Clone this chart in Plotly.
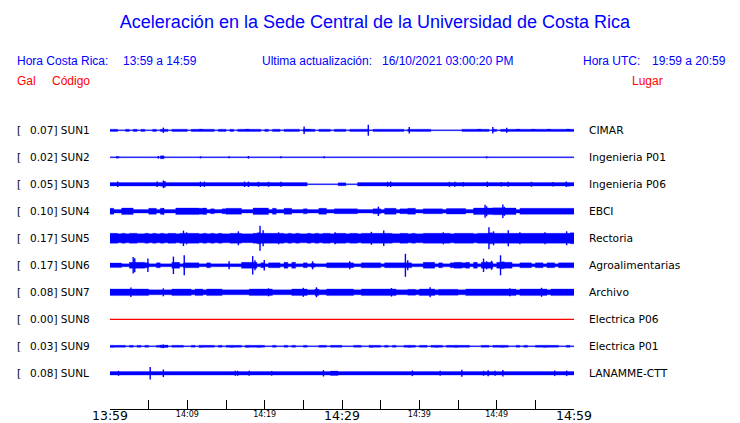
import plotly.graph_objects as go

# ---------------- data ----------------
codes = ["SUN1", "SUN2", "SUN3", "SUN4", "SUN5", "SUN6", "SUN7", "SUN8", "SUN9", "SUNL"]
gal = ["0.07", "0.02", "0.05", "0.10", "0.17", "0.17", "0.08", "0.00", "0.03", "0.08"]
places = ["CIMAR", "Ingenieria P01", "Ingenieria P06", "EBCI", "Rectoria", "Agroalimentarias",
          "Archivo", "Electrica P06", "Electrica P01", "LANAMME-CTT"]
trace_colors = ["#0000ff", "#0000ff", "#0000ff", "#0000ff", "#0000ff", "#0000ff",
                "#0000ff", "#ff0000", "#0000ff", "#0000ff"]

# time axis: minutes after 13:59, envelope sampled every 30 s (120 samples)
sample_minutes = [k * 0.5 for k in range(120)]
tick_minutes = [0, 5, 10, 15, 20, 25, 30, 35, 40, 45, 50, 55, 60]
small_tick_text = ["", "", "14:09", "", "14:19", "", "", "", "14:39", "", "14:49", "", ""]
large_tick_text = ["13:59", "", "", "", "", "", "14:29", "", "", "", "", "", "14:59"]

# half-height of the dense part of each trace (display units)
sun1 = [1.1, 1.1, 0.45, 0.45, 1.1, 0.45, 1.1, 0.45, 1.1, 0.45, 0.45, 1.1, 0.45, 1.1, 1.1, 0.45, 1.1, 1.1, 1.1, 1.1,
        0.45, 1.1, 1.1, 1.2, 1.1, 1.1, 1.1, 0.45, 1.1, 1.1, 0.45, 1.1, 0.45, 1.1, 1.1, 1.2, 1.1, 1.1, 1.1, 0.45,
        1.1, 0.45, 1.1, 1.1, 0.45, 1.1, 1.1, 1.1, 1.1, 0.45, 1.2, 1.2, 1.1, 0.45, 1.1, 1.1, 1.1, 0.45, 1.1, 1.1,
        1.1, 0.45, 1.1, 1.1, 1.1, 1.1, 1.1, 0.45, 1.1, 1.1, 1.1, 1.1, 1.1, 1.1, 1.1, 1.1, 0.45, 1.1, 1.1, 1.1,
        1.1, 1.1, 1.1, 0.45, 0.45, 0.45, 0.45, 0.45, 0.45, 0.45, 0.45, 1.1, 1.1, 1.1, 1.1, 1.2, 1.1, 1.1, 0.45, 1.1,
        0.45, 1.1, 1.1, 1.1, 1.1, 1.2, 1.1, 1.1, 1.1, 1.2, 1.1, 1.1, 1.1, 1.2, 1.1, 1.1, 1.1, 1.1, 1.2, 1.1]
sun2 = [0.45, 0.45, 0.45, 0.45, 0.45, 0.45, 0.45, 0.45, 0.45, 0.45, 0.45, 0.45, 0.45, 1.5, 0.45, 0.45, 0.45, 0.45, 0.45, 0.45,
        0.45, 0.45, 0.45, 0.45, 0.45, 0.45, 0.45, 0.45, 0.45, 0.45, 0.45, 0.45, 0.45, 0.45, 0.45, 0.45, 0.45, 0.45, 0.45, 0.45,
        0.45, 0.45, 0.45, 0.45, 0.45, 0.45, 0.45, 0.45, 0.45, 0.45, 0.45, 0.45, 0.45, 0.45, 0.45, 0.45, 0.45, 0.45, 0.45, 0.45,
        0.45, 0.45, 0.45, 0.45, 0.45, 0.45, 0.45, 0.45, 0.45, 0.45, 0.45, 0.45, 0.45, 0.45, 0.45, 0.45, 0.45, 0.45, 0.45, 0.45,
        0.45, 0.45, 0.45, 0.45, 0.45, 0.45, 0.45, 0.45, 0.45, 0.45, 0.45, 0.45, 0.45, 0.45, 0.45, 0.45, 0.45, 0.45, 0.45, 0.45,
        0.45, 0.45, 0.45, 0.45, 0.45, 0.45, 0.45, 0.45, 0.45, 0.45, 0.45, 0.45, 0.45, 0.45, 0.45, 0.45, 0.45, 0.45, 0.45, 0.45]
sun3 = [1.7, 1.7, 1.7, 1.7, 1.7, 1.7, 1.7, 1.7, 1.7, 1.7, 1.7, 1.7, 1.7, 1.9, 1.7, 1.7, 1.7, 1.7, 1.7, 1.7,
        1.7, 1.7, 1.7, 1.7, 1.7, 1.7, 1.7, 1.7, 1.7, 1.7, 1.7, 1.7, 1.7, 1.7, 1.7, 1.7, 1.7, 1.7, 1.7, 1.7,
        1.7, 1.7, 1.7, 1.7, 1.7, 1.7, 1.7, 1.7, 1.7, 1.7, 1.7, 0.45, 0.45, 0.45, 0.45, 0.45, 0.45, 0.45, 0.45, 1.5,
        1.5, 0.45, 0.45, 0.45, 1.7, 1.7, 1.7, 1.7, 1.7, 1.7, 1.7, 1.7, 1.7, 1.7, 1.7, 1.7, 1.7, 1.7, 1.7, 1.7,
        1.7, 1.7, 1.7, 1.7, 1.7, 1.7, 1.7, 1.7, 1.7, 1.7, 1.7, 1.7, 1.7, 1.7, 1.7, 1.7, 1.7, 1.7, 1.7, 1.7,
        1.7, 1.7, 1.7, 1.7, 1.7, 1.7, 1.7, 1.7, 1.7, 1.7, 1.7, 1.7, 1.7, 1.7, 1.7, 1.7, 1.7, 1.7, 1.9, 1.8]
sun4 = [3.0, 1.8, 1.8, 3.3, 3.3, 3.3, 1.8, 1.8, 1.8, 1.8, 3.0, 3.0, 1.8, 3.0, 1.8, 1.8, 1.8, 3.3, 3.3, 3.3,
        3.3, 3.3, 3.3, 3.0, 3.3, 1.8, 2.5, 1.8, 1.8, 2.5, 3.0, 3.0, 3.0, 3.0, 1.8, 1.8, 1.8, 3.3, 3.3, 3.3,
        3.3, 1.8, 3.0, 1.8, 1.8, 3.0, 3.0, 1.8, 1.8, 1.8, 2.5, 1.8, 1.8, 1.8, 3.0, 3.0, 1.8, 1.8, 2.5, 2.5,
        2.5, 2.5, 2.5, 2.5, 1.8, 1.8, 1.8, 1.8, 2.5, 2.5, 1.8, 3.0, 3.0, 3.0, 1.8, 2.5, 2.5, 3.0, 3.0, 1.8,
        1.8, 2.5, 2.5, 2.5, 2.5, 2.5, 1.8, 2.8, 2.8, 2.8, 2.8, 2.8, 1.8, 1.8, 3.3, 3.3, 3.3, 3.3, 3.3, 3.5,
        3.5, 3.5, 3.3, 3.3, 3.3, 1.8, 3.0, 3.0, 3.0, 3.0, 3.0, 3.0, 3.0, 3.0, 3.0, 3.0, 3.0, 3.0, 3.0, 3.0]
sun5 = [5.0, 5.0, 4.5, 5.0, 4.5, 5.0, 5.0, 4.5, 4.5, 5.0, 4.5, 5.0, 4.5, 5.0, 4.5, 5.0, 5.0, 4.5, 5.0, 5.0,
        5.0, 5.0, 5.0, 4.5, 5.0, 4.5, 5.0, 4.5, 5.0, 4.5, 4.5, 5.0, 5.0, 5.0, 4.5, 4.5, 4.5, 5.0, 5.5, 5.0,
        5.0, 5.0, 5.0, 5.0, 5.0, 4.5, 5.0, 4.5, 5.0, 4.5, 4.5, 5.0, 4.5, 5.0, 4.5, 5.0, 5.0, 4.5, 5.0, 5.0,
        5.0, 4.5, 5.0, 5.0, 4.5, 5.0, 5.0, 5.0, 5.0, 5.0, 5.0, 5.0, 5.0, 4.5, 4.5, 5.0, 5.0, 4.5, 5.0, 4.5,
        4.5, 5.0, 5.0, 5.0, 5.0, 5.0, 5.0, 5.0, 4.5, 5.0, 5.0, 5.0, 5.0, 5.0, 4.5, 5.0, 5.0, 5.0, 5.5, 5.0,
        5.0, 5.0, 5.0, 5.0, 5.0, 5.0, 5.0, 5.0, 5.0, 5.0, 5.0, 5.0, 5.0, 5.0, 5.0, 5.0, 5.0, 5.0, 5.0, 5.5]
sun6 = [2.3, 2.3, 2.3, 1.5, 1.5, 3.0, 3.0, 3.0, 3.0, 2.5, 1.5, 1.5, 2.5, 1.5, 1.5, 1.5, 3.0, 3.0, 1.5, 2.5,
        2.5, 2.5, 2.5, 1.5, 1.5, 2.5, 1.5, 1.5, 1.5, 1.5, 1.5, 1.5, 1.5, 1.5, 3.0, 3.0, 3.0, 3.0, 1.5, 2.5,
        1.5, 2.5, 2.5, 2.5, 1.5, 3.0, 1.5, 3.0, 1.5, 1.5, 2.5, 1.5, 2.0, 1.5, 1.5, 1.5, 2.5, 2.5, 2.5, 2.5,
        2.5, 2.5, 2.5, 1.5, 1.5, 2.5, 2.5, 2.5, 2.5, 2.5, 1.5, 2.5, 2.5, 2.5, 2.5, 2.5, 2.5, 2.5, 1.5, 1.5,
        1.5, 3.0, 3.0, 3.0, 1.5, 2.5, 1.5, 1.5, 2.5, 3.0, 3.0, 2.5, 3.0, 1.5, 3.0, 1.5, 3.0, 3.0, 3.0, 1.5,
        3.0, 3.5, 3.0, 3.0, 1.5, 1.5, 2.5, 2.5, 2.5, 1.5, 2.5, 2.5, 1.5, 2.5, 2.5, 1.5, 2.5, 2.5, 2.5, 2.5]
sun7 = [3.3, 3.3, 3.3, 3.3, 3.3, 3.3, 3.3, 3.3, 3.3, 3.3, 2.5, 2.5, 2.5, 2.5, 2.5, 2.5, 3.3, 3.3, 3.3, 3.3,
        3.3, 2.5, 3.3, 3.3, 2.5, 3.3, 3.3, 3.3, 3.3, 2.5, 2.5, 2.5, 2.5, 2.5, 2.5, 2.5, 3.3, 3.3, 3.3, 3.3,
        3.3, 3.3, 2.5, 2.5, 2.5, 2.5, 2.5, 3.3, 3.3, 3.3, 3.3, 2.5, 2.5, 3.3, 2.5, 2.5, 3.3, 3.3, 3.3, 3.3,
        3.3, 3.3, 3.3, 2.5, 2.5, 3.3, 3.3, 3.3, 3.3, 3.3, 3.3, 3.3, 3.3, 3.3, 2.5, 2.5, 2.5, 3.0, 3.0, 2.5,
        3.3, 3.3, 3.3, 3.3, 2.5, 3.0, 3.0, 3.0, 3.0, 3.0, 2.5, 2.5, 3.3, 3.3, 3.3, 3.3, 3.3, 3.3, 3.3, 3.3,
        3.3, 3.3, 3.3, 3.3, 3.3, 2.5, 3.3, 3.3, 3.3, 3.3, 3.3, 3.3, 3.3, 2.5, 3.3, 3.3, 3.3, 3.3, 3.3, 3.3]
sun8 = [0.0, 0.0, 0.0, 0.0, 0.0, 0.0, 0.0, 0.0, 0.0, 0.0, 0.0, 0.0, 0.0, 0.0, 0.0, 0.0, 0.0, 0.0, 0.0, 0.0,
        0.0, 0.0, 0.0, 0.0, 0.0, 0.0, 0.0, 0.0, 0.0, 0.0, 0.0, 0.0, 0.0, 0.0, 0.0, 0.0, 0.0, 0.0, 0.0, 0.0,
        0.0, 0.0, 0.0, 0.0, 0.0, 0.0, 0.0, 0.0, 0.0, 0.0, 0.0, 0.0, 0.0, 0.0, 0.0, 0.0, 0.0, 0.0, 0.0, 0.0,
        0.0, 0.0, 0.0, 0.0, 0.0, 0.0, 0.0, 0.0, 0.0, 0.0, 0.0, 0.0, 0.0, 0.0, 0.0, 0.0, 0.0, 0.0, 0.0, 0.0,
        0.0, 0.0, 0.0, 0.0, 0.0, 0.0, 0.0, 0.0, 0.0, 0.0, 0.0, 0.0, 0.0, 0.0, 0.0, 0.0, 0.0, 0.0, 0.0, 0.0,
        0.0, 0.0, 0.0, 0.0, 0.0, 0.0, 0.0, 0.0, 0.0, 0.0, 0.0, 0.0, 0.0, 0.0, 0.0, 0.0, 0.0, 0.0, 0.0, 0.0]
sun9 = [1.1, 1.0, 1.0, 1.0, 0.45, 1.0, 0.45, 1.0, 0.45, 1.0, 0.45, 0.45, 1.0, 1.4, 1.2, 0.45, 1.0, 1.0, 1.0, 0.45,
        0.45, 1.0, 0.45, 1.1, 1.0, 1.0, 1.0, 0.45, 1.0, 0.45, 1.0, 1.1, 1.0, 1.0, 0.45, 1.1, 1.0, 1.0, 1.1, 1.0,
        0.45, 0.45, 1.0, 0.45, 0.45, 1.0, 0.45, 1.0, 0.45, 0.45, 1.0, 0.45, 0.45, 0.45, 1.0, 1.0, 0.45, 1.0, 1.0, 1.0,
        0.45, 0.45, 0.45, 1.0, 1.0, 0.45, 0.45, 1.1, 1.0, 1.0, 0.45, 1.0, 0.45, 1.0, 0.45, 0.45, 1.0, 1.1, 1.0, 0.45,
        1.0, 1.0, 0.45, 1.0, 1.1, 1.0, 0.45, 1.0, 1.0, 1.1, 1.0, 1.0, 1.0, 0.45, 0.45, 0.45, 1.0, 1.0, 0.45, 1.0,
        1.0, 1.1, 1.0, 0.45, 0.45, 1.0, 0.45, 1.0, 0.45, 0.45, 1.0, 1.0, 1.1, 1.0, 1.0, 1.0, 0.45, 0.45, 1.0, 0.45]
sunl = [1.8, 1.8, 1.8, 1.8, 1.8, 1.8, 1.8, 1.8, 1.8, 1.8, 1.8, 1.8, 1.8, 1.8, 1.8, 1.8, 1.8, 1.8, 1.8, 1.8,
        1.8, 1.8, 1.8, 1.8, 1.8, 1.8, 1.8, 1.8, 1.8, 1.8, 1.8, 1.8, 1.8, 1.8, 1.8, 1.8, 1.8, 1.8, 1.8, 1.8,
        1.8, 1.8, 1.8, 1.8, 1.8, 1.8, 1.8, 1.8, 1.8, 1.8, 1.8, 1.8, 1.8, 1.8, 1.8, 1.8, 1.8, 2.2, 2.2, 1.8,
        1.8, 1.8, 1.8, 1.8, 1.8, 1.8, 1.8, 1.8, 1.8, 1.8, 1.8, 1.8, 1.8, 1.8, 1.8, 1.8, 1.8, 1.8, 1.8, 1.8,
        1.8, 1.8, 1.8, 1.8, 1.8, 1.8, 1.8, 1.8, 1.8, 1.8, 1.8, 1.8, 1.8, 1.8, 1.8, 1.8, 1.8, 1.8, 1.8, 1.8,
        1.8, 1.8, 1.8, 1.8, 1.8, 1.8, 1.8, 1.8, 1.8, 1.8, 1.8, 1.8, 1.8, 1.8, 1.8, 1.8, 1.8, 1.8, 1.8, 1.8]
envelopes = [sun1, sun2, sun3, sun4, sun5, sun6, sun7, sun8, sun9, sunl]

# isolated peaks: (minute after 13:59, half-height in display units)
peaks_sun1 = [(6.9, 2.7), (25.1, 3.8), (33.4, 5.5), (38.7, 3.3), (49.5, 3.2), (51.3, 2.5)]
peaks_sun2 = [(0.9, 1.3), (1.1, 0.9), (6.25, 1.3), (11.7, 1.0), (15.4, 1.0), (17.9, 1.3),
              (22.1, 1.0), (27.7, 1.0), (48.7, 1.0)]
peaks_sun3 = [(1.0, 2.7), (6.1, 2.7), (6.9, 3.8), (7.1, 3.2), (11.7, 2.7), (12.2, 2.7), (17.4, 2.7),
              (17.9, 2.7), (19.2, 2.5), (20.5, 2.5), (22.1, 2.5), (35.9, 2.5), (36.3, 2.7), (43.9, 2.5),
              (44.6, 2.5), (45.7, 2.3), (48.8, 2.7), (50.6, 2.3), (51.5, 2.5), (54.5, 2.5), (57.3, 2.3),
              (59.0, 2.7)]
peaks_sun4 = [(6.9, 3.3), (34.7, 4.7), (48.5, 6.5), (48.7, 5.0), (50.8, 6.7), (51.0, 4.5)]
peaks_sun5 = [(9.5, 7.7), (9.9, 6.0), (16.6, 7.0), (19.4, 12.5), (19.8, 8.0), (21.8, 6.0), (29.1, 6.0),
              (33.8, 6.5), (35.4, 7.8), (43.1, 6.0), (49.0, 11.0), (49.6, 7.0), (51.5, 8.0), (53.0, 6.0),
              (56.25, 6.0), (59.05, 7.0)]
peaks_sun6 = [(3.0, 8.2), (3.2, 7.0), (4.9, 6.8), (8.2, 8.7), (9.6, 10.0), (15.4, 4.0), (18.45, 9.2),
              (18.75, 5.0), (19.95, 5.3), (26.2, 4.0), (31.0, 4.0), (38.2, 11.5), (38.5, 5.0),
              (48.3, 6.7), (48.7, 4.0), (49.35, 4.5), (50.5, 10.0)]
peaks_sun7 = [(2.7, 4.7), (6.9, 4.0), (20.5, 4.0), (25.0, 4.5), (26.7, 5.0), (36.4, 4.3), (41.4, 5.0),
              (51.7, 4.0), (55.8, 4.5)]
peaks_sun8 = []
peaks_sun9 = [(6.9, 1.8)]
peaks_sunl = [(1.1, 2.5), (5.2, 6.3), (6.9, 3.8), (16.2, 2.5), (16.5, 2.5), (18.0, 2.5), (20.9, 2.3),
              (27.6, 3.2), (39.1, 2.8), (42.7, 2.5), (45.5, 3.5), (48.3, 2.5), (48.9, 3.0), (49.8, 2.5),
              (50.8, 3.3), (57.5, 2.8), (59.05, 2.8)]
peaks = [peaks_sun1, peaks_sun2, peaks_sun3, peaks_sun4, peaks_sun5, peaks_sun6, peaks_sun7,
         peaks_sun8, peaks_sun9, peaks_sunl]

# ---------------- layout constants (page pixels; the page body adds an 8 px margin) ----------------
PAGE_OFF = 8
W, H = 740 - PAGE_OFF, 423 - PAGE_OFF
PL, PR, PT, PB = 110, 574, 100, 409       # plot box in page pixels
ROW0, ROW_STEP = 130.3, 27.0              # page pixel of first trace baseline, spacing
AMP_SCALE = 1.0 / ROW_STEP                # envelope units -> y units

BLUE = "#0000ff"
RED = "#ff0000"
LABEL_FONT = "DejaVu Sans"
HEAD_FONT = "Liberation Sans, Arial, sans-serif"

def xp(px):
    return (px - PL) / (PR - PL)

def yp(py):
    return (PB - py) / (PB - PT)

n = len(codes)
offsets = [(n - 1 - i) for i in range(n)]   # SUN1 on top
y_bottom = -(PB - (ROW0 + (n - 1) * ROW_STEP)) / ROW_STEP
y_top = y_bottom + (PB - PT) / ROW_STEP

fig = go.Figure()
x_step = sample_minutes + [60.0]
for i in range(n):
    env = envelopes[i]
    col = trace_colors[i]
    off = offsets[i]
    if max(env) == 0:
        fig.add_trace(go.Scatter(x=x_step, y=[off] * len(x_step), mode="lines",
                                 line=dict(color=col, width=1.2), hoverinfo="skip",
                                 showlegend=False))
        continue
    lo = [off - a * AMP_SCALE for a in env] + [off - env[-1] * AMP_SCALE]
    hi = [off + a * AMP_SCALE for a in env] + [off + env[-1] * AMP_SCALE]
    fig.add_trace(go.Scatter(x=x_step, y=lo, mode="lines", line=dict(color=col, width=0.3, shape="hv"),
                             hoverinfo="skip", showlegend=False))
    fig.add_trace(go.Scatter(x=x_step, y=hi, mode="lines", line=dict(color=col, width=0.3, shape="hv"),
                             fill="tonexty", fillcolor=col, hoverinfo="skip", showlegend=False))
    if peaks[i]:
        px_, py_ = [], []
        for t, a in peaks[i]:
            px_ += [t, t, None]
            py_ += [off - a * AMP_SCALE, off + a * AMP_SCALE, None]
        fig.add_trace(go.Scatter(x=px_, y=py_, mode="lines", line=dict(color=col, width=1.4),
                                 hoverinfo="skip", showlegend=False))

ann = []
for i in range(n):
    py = ROW0 + i * ROW_STEP
    ann.append(dict(x=xp(15), y=yp(py), xref="paper", yref="paper", text="[", showarrow=False,
                    xanchor="left", yanchor="middle", font=dict(family=LABEL_FONT, size=10.5, color="black")))
    ann.append(dict(x=xp(28), y=yp(py), xref="paper", yref="paper", text=f"{gal[i]}] {codes[i]}",
                    showarrow=False, xanchor="left", yanchor="middle",
                    font=dict(family=LABEL_FONT, size=10.5, color="black")))
    ann.append(dict(x=xp(587), y=yp(py), xref="paper", yref="paper", text=places[i], showarrow=False,
                    xanchor="left", yanchor="middle", font=dict(family=LABEL_FONT, size=10.7, color="black")))

header = [
    ("Hora Costa Rica:", 15, 60.7, BLUE), ("13:59 a 14:59", 120.5, 60.7, BLUE),
    ("Ultima actualización:", 260, 60.7, BLUE), ("16/10/2021 03:00:20 PM", 380, 60.7, BLUE),
    ("Hora UTC:", 580.5, 60.7, BLUE), ("19:59 a 20:59", 650, 60.7, BLUE),
    ("Gal", 15, 80.7, RED), ("Código", 50, 80.7, RED), ("Lugar", 630, 80.7, RED),
]
for txt, px, py, col in header:
    ann.append(dict(x=xp(px), y=yp(py), xref="paper", yref="paper", text=txt, showarrow=False,
                    xanchor="left", yanchor="middle", font=dict(family=HEAD_FONT, size=12, color=col)))

fig.update_layout(
    width=W, height=H,
    margin=dict(l=PL - PAGE_OFF, r=740 - PR, t=PT - PAGE_OFF, b=423 - PB, pad=0),
    paper_bgcolor="white", plot_bgcolor="white",
    title=dict(text="Aceleración en la Sede Central de la Universidad de Costa Rica",
               x=(375 - PAGE_OFF) / W, xref="container", xanchor="center",
               y=1 - (22 - PAGE_OFF) / H, yref="container", yanchor="middle",
               font=dict(family=HEAD_FONT, size=18, color=BLUE)),
    annotations=ann,
    showlegend=False,
    xaxis=dict(range=[0, 60], tickmode="array", tickvals=tick_minutes, showticklabels=False,
               ticks="inside", ticklen=9, tickcolor="black", tickwidth=1,
               showline=True, linecolor="black", linewidth=1, showgrid=False, zeroline=False,
               automargin=False, fixedrange=True),
    xaxis2=dict(range=[0, 60], overlaying="x", side="bottom", anchor="free", position=2.5 / (PB - PT),
                tickmode="array", tickvals=tick_minutes, ticktext=large_tick_text, ticks="",
                showline=False, showgrid=False, zeroline=False,
                tickfont=dict(family=LABEL_FONT, size=12.5, color="black"), automargin=False),
    xaxis3=dict(range=[0, 60], overlaying="x", side="bottom", anchor="free", position=1.5 / (PB - PT),
                tickmode="array", tickvals=tick_minutes, ticktext=small_tick_text, ticks="",
                showline=False, showgrid=False, zeroline=False,
                tickfont=dict(family=LABEL_FONT, size=8, color="black"), automargin=False),
    yaxis=dict(range=[y_bottom, y_top], visible=False, fixedrange=True),
)
for ax in ["x2", "x3"]:
    fig.add_trace(go.Scatter(x=[0, 60], y=[y_bottom, y_bottom], xaxis=ax, mode="lines",
                             line=dict(width=0), hoverinfo="skip", showlegend=False))

fig.write_html("out.html")
